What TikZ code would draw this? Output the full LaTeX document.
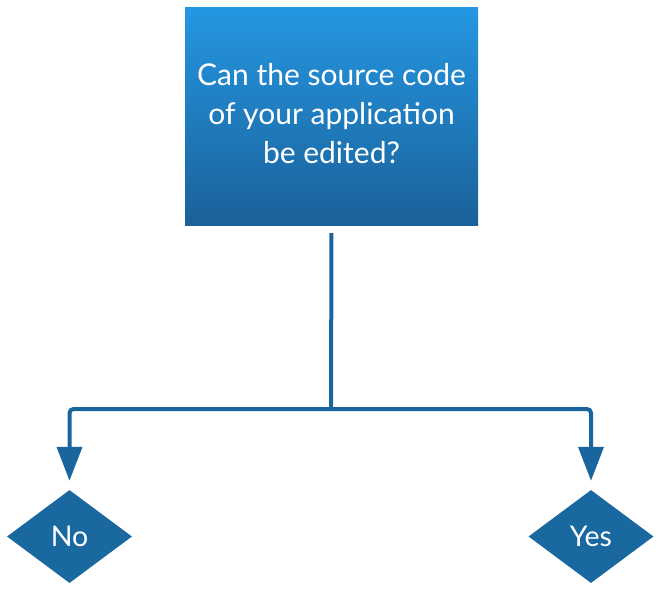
\documentclass[tikz,border=0pt]{standalone}
\usepackage{fontspec}
\setmainfont{Lato}
\usetikzlibrary{shapes.geometric,arrows.meta}
\definecolor{topblue}{HTML}{2597E2}
\definecolor{botblue}{HTML}{1A6199}
\definecolor{linkblue}{HTML}{1B659E}
\definecolor{dblue}{HTML}{1A68A0}
\begin{document}
\begin{tikzpicture}[x=1pt,y=-1pt,
  qbox/.style={rectangle,minimum width=293pt,minimum height=218pt,inner sep=0pt,
    top color=topblue,bottom color=botblue,draw=none,text=white,align=center,
    font=\fontsize{30}{39}\selectfont},
  ans/.style={diamond,fill=dblue,draw=none,minimum width=125pt,minimum height=93pt,
    inner sep=0pt,aspect=1.34,text=white,font=\fontsize{28.5}{32}\selectfont},
  conn/.style={draw=linkblue,line width=4pt,rounded corners=4pt},
  arr/.style={conn,-{Triangle[width=25pt,length=34pt]},shorten >=9pt}]
\useasboundingbox (0,0) rectangle (660,589);
\node[qbox] (q) at (331.5,116) {};
\node[text=white,align=center,font=\fontsize{30}{39}\selectfont] (qt) at (331.5,113.5) {Can the source code\\of your application\\be edited?};
\node[ans] (no) at (69.5,536.5) {No};
\node[ans] (yes) at (591,536.5) {Yes};
\coordinate (j) at (331,409);
\draw[conn,shorten <=8pt] (q.south) -- (j);
\draw[arr] (j) -| (no.north);
\draw[arr] (j) -| (yes.north);
\end{tikzpicture}
\end{document}
